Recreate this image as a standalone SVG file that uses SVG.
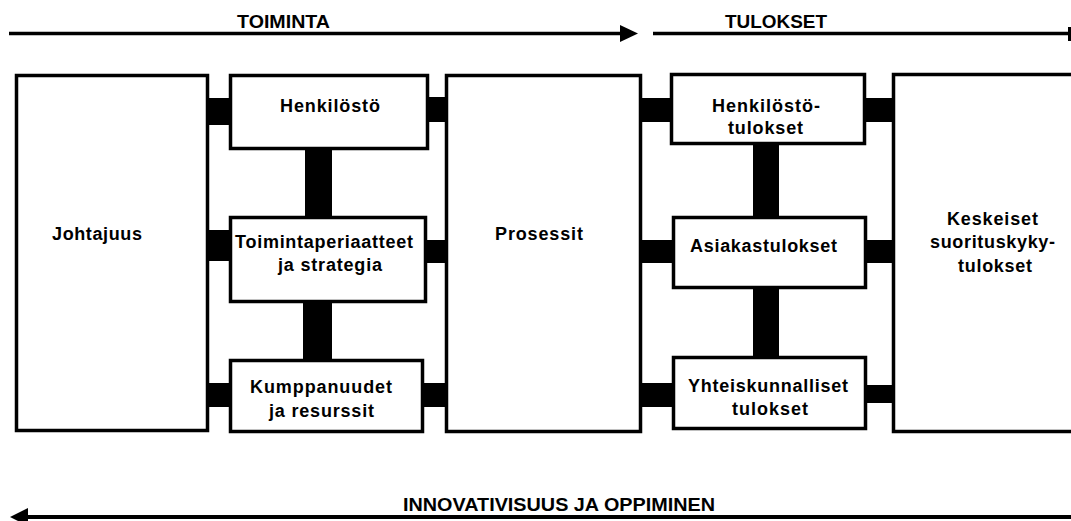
<svg xmlns="http://www.w3.org/2000/svg" width="1071" height="521" viewBox="0 0 1071 521">
  <style>
    .box { fill: #ffffff; stroke: #000000; stroke-width: 3.5; }
    .bar { fill: #000000; }
    .lbl { font-family: "Liberation Sans", Arial, sans-serif; font-weight: bold; font-size: 18px; fill: #000000; }
    .head { font-family: "Liberation Sans", Arial, sans-serif; font-weight: bold; font-size: 19px; fill: #000000; }
    .axis { stroke: #000000; stroke-width: 3.5; fill: none; }
  </style>
  <rect width="1071" height="521" fill="#ffffff"/>

  <!-- flow axes -->
  <g id="axes">
    <line class="axis" x1="9" y1="33.5" x2="622" y2="33.5"/>
    <polygon points="620,25 638,33.5 620,42" fill="#000000"/>
    <text class="head" x="237" y="28" textLength="93" lengthAdjust="spacingAndGlyphs">TOIMINTA</text>
    <line class="axis" x1="653" y1="33.5" x2="1070" y2="33.5"/>
    <rect x="1068" y="27" width="3" height="14" fill="#000000"/>
    <text class="head" x="725" y="28" textLength="102" lengthAdjust="spacingAndGlyphs">TULOKSET</text>
    <line x1="25" y1="517" x2="1071" y2="517" stroke="#000000" stroke-width="4"/>
    <polygon points="10,517 28,508 28,526" fill="#000000"/>
    <text class="head" x="403" y="511" textLength="312" lengthAdjust="spacingAndGlyphs">INNOVATIVISUUS JA OPPIMINEN</text>
  </g>

  <!-- connecting bars between the boxes -->
  <g id="connectors">
    <rect class="bar" x="207" y="98" width="24" height="27"/>
    <rect class="bar" x="427" y="97" width="20" height="25"/>
    <rect class="bar" x="207" y="230" width="24" height="31"/>
    <rect class="bar" x="425" y="240" width="22" height="23"/>
    <rect class="bar" x="207" y="383" width="24" height="24"/>
    <rect class="bar" x="422" y="383" width="25" height="24"/>
    <rect class="bar" x="305" y="148" width="27" height="70"/>
    <rect class="bar" x="303" y="301" width="29" height="60"/>
    <rect class="bar" x="640" y="98" width="32" height="24"/>
    <rect class="bar" x="640" y="240" width="34" height="23"/>
    <rect class="bar" x="640" y="383" width="34" height="24"/>
    <rect class="bar" x="864" y="98" width="30" height="24"/>
    <rect class="bar" x="865" y="240" width="29" height="23"/>
    <rect class="bar" x="865" y="385" width="29" height="18"/>
    <rect class="bar" x="753" y="143" width="26" height="75"/>
    <rect class="bar" x="753" y="287" width="26" height="71"/>
  </g>

  <g id="johtajuus">
    <rect class="box" x="16.5" y="75.5" width="191" height="355"/>
    <text class="lbl" x="52" y="240" textLength="90" lengthAdjust="spacing">Johtajuus</text>
  </g>

  <g id="henkilosto">
    <rect class="box" x="230.5" y="75.5" width="197" height="73"/>
    <text class="lbl" x="280" y="112" textLength="100" lengthAdjust="spacing">Henkilöstö</text>
  </g>

  <g id="toimintaperiaatteet">
    <rect class="box" x="230.5" y="217.5" width="195" height="84"/>
    <text class="lbl" x="235" y="248" textLength="178" lengthAdjust="spacing">Toimintaperiaatteet</text>
    <text class="lbl" x="278" y="271" textLength="104" lengthAdjust="spacing">ja strategia</text>
  </g>

  <g id="kumppanuudet">
    <rect class="box" x="230.5" y="360.5" width="192" height="71"/>
    <text class="lbl" x="250" y="393" textLength="142" lengthAdjust="spacing">Kumppanuudet</text>
    <text class="lbl" x="269" y="417" textLength="105" lengthAdjust="spacing">ja resurssit</text>
  </g>

  <g id="prosessit">
    <rect class="box" x="446.5" y="75.5" width="194" height="356"/>
    <text class="lbl" x="495" y="240" textLength="88" lengthAdjust="spacing">Prosessit</text>
  </g>

  <g id="henkilostotulokset">
    <rect class="box" x="671.5" y="74.5" width="193" height="69"/>
    <text class="lbl" x="712" y="112" textLength="108" lengthAdjust="spacing">Henkilöstö-</text>
    <text class="lbl" x="728" y="134" textLength="75" lengthAdjust="spacing">tulokset</text>
  </g>

  <g id="asiakastulokset">
    <rect class="box" x="673.5" y="217.5" width="192" height="70"/>
    <text class="lbl" x="690" y="252" textLength="147" lengthAdjust="spacing">Asiakastulokset</text>
  </g>

  <g id="yhteiskunnalliset">
    <rect class="box" x="673.5" y="357.5" width="192" height="71"/>
    <text class="lbl" x="688" y="392" textLength="160" lengthAdjust="spacing">Yhteiskunnalliset</text>
    <text class="lbl" x="732" y="415" textLength="76" lengthAdjust="spacing">tulokset</text>
  </g>

  <g id="keskeiset">
    <rect class="box" x="893.5" y="74.5" width="190" height="357"/>
    <text class="lbl" x="947" y="225" textLength="91" lengthAdjust="spacing">Keskeiset</text>
    <text class="lbl" x="930" y="248" textLength="125" lengthAdjust="spacing">suorituskyky-</text>
    <text class="lbl" x="958" y="272" textLength="74" lengthAdjust="spacing">tulokset</text>
  </g>
</svg>
